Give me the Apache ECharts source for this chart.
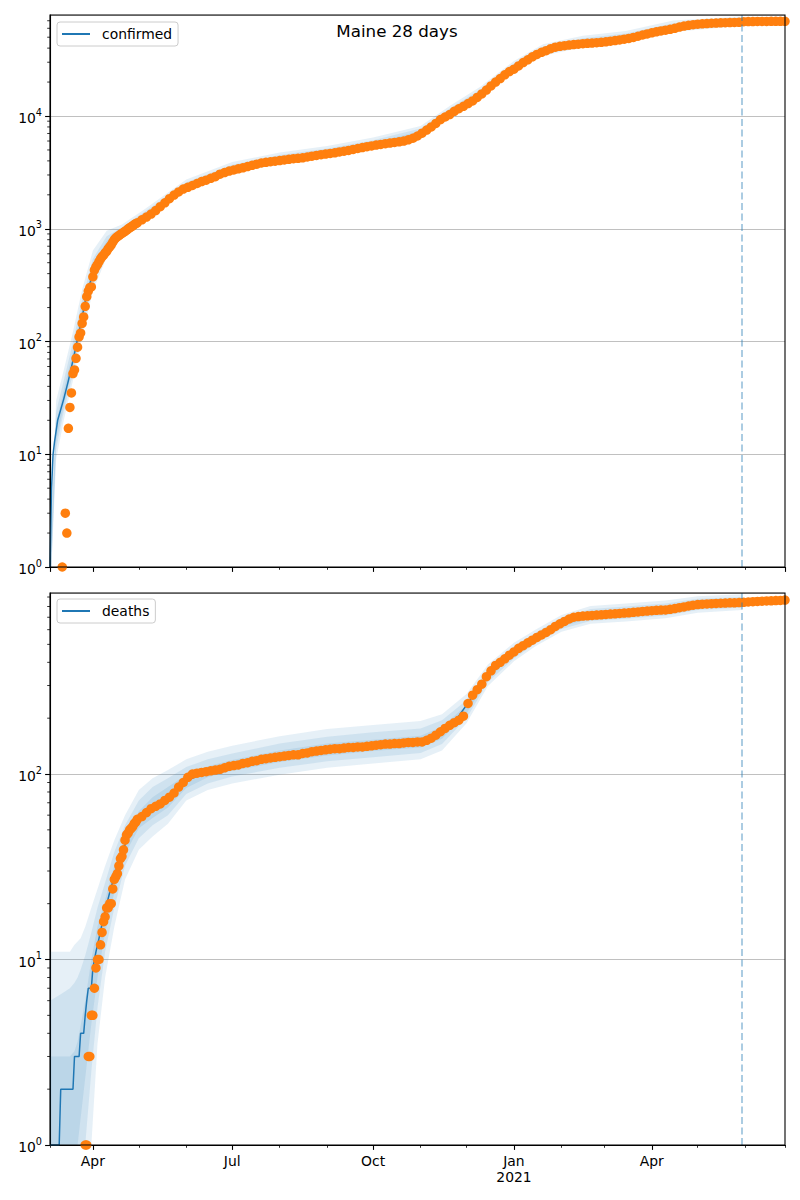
<!DOCTYPE html>
<html><head><meta charset="utf-8">
<script src="https://cdn.jsdelivr.net/npm/echarts@6/dist/echarts.min.js"></script>
<style>html,body{margin:0;padding:0;background:#fff}#c{width:800px;height:1200px}</style>
</head><body><div id="c"></div>
<script>
// ---------------- data ----------------
const monthNames = ['Jan','Feb','Mar','Apr','May','Jun','Jul','Aug','Sep','Oct','Nov','Dec'];
const xMinDate = '2020-03-04', xMaxDate = '2021-06-27', cutoffDate = '2021-05-30';
const yMaxConfirmed = 78700, yMaxDeaths = 946;

const obsDates = [
'2020-03-12','2020-03-13','2020-03-14','2020-03-15','2020-03-16','2020-03-17','2020-03-18','2020-03-19','2020-03-20','2020-03-21',
'2020-03-22','2020-03-23','2020-03-24','2020-03-25','2020-03-26','2020-03-27','2020-03-28','2020-03-29','2020-03-30','2020-03-31',
'2020-04-01','2020-04-02','2020-04-03','2020-04-04','2020-04-05','2020-04-06','2020-04-07','2020-04-08','2020-04-09','2020-04-10',
'2020-04-11','2020-04-12','2020-04-13','2020-04-14','2020-04-15','2020-04-16','2020-04-17','2020-04-18','2020-04-19','2020-04-20',
'2020-04-21','2020-04-22','2020-04-23','2020-04-24','2020-04-25','2020-04-26','2020-04-27','2020-04-28','2020-04-29','2020-04-30',
'2020-05-03','2020-05-06','2020-05-09','2020-05-12','2020-05-15','2020-05-18','2020-05-21','2020-05-24','2020-05-27','2020-05-30',
'2020-06-02','2020-06-05','2020-06-08','2020-06-11','2020-06-14','2020-06-17','2020-06-20','2020-06-23','2020-06-26','2020-06-29',
'2020-07-02','2020-07-05','2020-07-08','2020-07-11','2020-07-14','2020-07-17','2020-07-20','2020-07-23','2020-07-26','2020-07-29',
'2020-08-01','2020-08-04','2020-08-07','2020-08-10','2020-08-13','2020-08-16','2020-08-19','2020-08-22','2020-08-25','2020-08-28','2020-08-31',
'2020-09-03','2020-09-06','2020-09-09','2020-09-12','2020-09-15','2020-09-18','2020-09-21','2020-09-24','2020-09-27','2020-09-30',
'2020-10-03','2020-10-06','2020-10-09','2020-10-12','2020-10-15','2020-10-18','2020-10-21','2020-10-24','2020-10-27','2020-10-30',
'2020-11-02','2020-11-05','2020-11-08','2020-11-11','2020-11-14','2020-11-17','2020-11-20','2020-11-23','2020-11-26','2020-11-29',
'2020-12-02','2020-12-05','2020-12-08','2020-12-11','2020-12-14','2020-12-17','2020-12-20','2020-12-23','2020-12-26','2020-12-29',
'2021-01-01','2021-01-04','2021-01-07','2021-01-10','2021-01-13','2021-01-16','2021-01-19','2021-01-22','2021-01-25','2021-01-28','2021-01-31',
'2021-02-03','2021-02-06','2021-02-09','2021-02-12','2021-02-15','2021-02-18','2021-02-21','2021-02-24','2021-02-27',
'2021-03-02','2021-03-05','2021-03-08','2021-03-11','2021-03-14','2021-03-17','2021-03-20','2021-03-23','2021-03-26','2021-03-29',
'2021-04-01','2021-04-04','2021-04-07','2021-04-10','2021-04-13','2021-04-16','2021-04-19','2021-04-22','2021-04-25','2021-04-28',
'2021-05-01','2021-05-04','2021-05-07','2021-05-10','2021-05-13','2021-05-16','2021-05-19','2021-05-22','2021-05-25','2021-05-28','2021-05-31',
'2021-06-03','2021-06-06','2021-06-09','2021-06-12','2021-06-15','2021-06-18','2021-06-21','2021-06-24','2021-06-27'];

const confirmedObs = [
1,null,3,2,17,26,35,52,56,71, 89,110,119,145,165,205,250,280,300,305,
375,430,460,480,510,540,565,585,610,630, 665,690,720,760,800,830,850,870,890,910,
930,950,970,1000,1020,1040,1060,1090,1110,1130,
1200,1270,1350,1450,1570,1700,1850,1990,2120,2250,
2330,2420,2520,2620,2700,2800,2900,3050,3150,3250,
3320,3400,3470,3560,3650,3740,3830,3880,3930,3980,
4030,4080,4130,4180,4220,4260,4330,4400,4470,4540,4600,
4660,4720,4800,4870,4950,5050,5150,5250,5340,5430,
5520,5600,5680,5750,5830,5900,6000,6150,6350,6650,
7050,7500,8000,8600,9300,9800,10300,11000,11600,12200,
12900,13600,14600,15700,17000,18500,20000,21500,23200,24800,
26000,27800,29800,31500,33500,35200,36700,38000,39600,40800,41500,
42100,42600,43000,43400,43800,44100,44400,44700,45000,
45500,46100,46700,47300,48000,48800,49800,51000,52300,53500,
54700,55800,56800,57700,58700,60000,61500,62800,63800,64600,
65200,65700,66100,66500,66800,67100,67300,67500,67650,67800,68700,
68800,68900,68950,69000,69050,69100,69150,69200,69250];

const deathsObs = [
null,null,null,null,null,null,null,null,null,null, null,null,null,null,null,1,1,3,3,5,
5,7,9,10,10,12,14,16,17,19, 19,20,20,24,27,28,29,32,35,36,
39,44,47,48,50,51,52,54,55,57,
59,62,65,67,69,72,75,79,85,90,
96,100,101,102,103,104,105,106,108,110,
111,112,114,115,117,118,120,121,122,123,
124,125,126,127,127,129,130,132,133,134,135,
136,137,137,138,139,139,140,140,141,142,
143,144,145,145,146,146,147,148,148,149,
149,152,156,162,169,176,183,189,195,205,
240,266,285,305,335,360,385,400,418,437,
455,476,492,510,527,545,562,580,600,625,645,
665,685,700,706,710,713,716,719,722,
725,728,731,734,737,740,744,748,752,756,
760,763,765,767,772,780,788,796,805,813,
819,823,826,829,831,833,835,837,838,840,843,
846,849,852,855,857,859,861,863,866];

// model median (confirmed)
const confModelDates = ['2020-03-04','2020-03-05','2020-03-06','2020-03-07','2020-03-09','2020-03-13','2020-03-16','2020-03-19','2020-03-22','2020-03-25',
'2020-03-28','2020-04-01','2020-04-05','2020-04-10','2020-04-15','2020-04-20','2020-05-01','2020-05-10','2020-05-20','2020-06-01',
'2020-06-15','2020-07-01','2020-07-15','2020-08-01','2020-08-15','2020-09-01','2020-09-15','2020-10-01','2020-10-15','2020-11-01',
'2020-11-10','2020-11-20','2020-12-01','2020-12-10','2020-12-20','2021-01-01','2021-01-10','2021-01-20','2021-02-01','2021-02-15',
'2021-03-01','2021-03-15','2021-04-01','2021-04-15','2021-05-01','2021-05-15','2021-05-30'];
const confMedian = [1,5,10,13,20,31,45,68,105,165, 265,400,560,700,830,930,1180,1420,1800,2330,
2750,3330,3700,4060,4270,4630,4990,5500,5870,6980, 8400,10500,12800,15500,20300,26300,31800,37000,41800,44000,
45600,48500,55100,60000,65600,67400,68300];

// model quantile bands (confirmed)
const confBandDates = ['2020-03-04','2020-03-08','2020-03-13','2020-03-19','2020-03-25','2020-04-01','2020-04-10','2020-04-20','2020-05-05','2020-06-01',
'2020-07-01','2020-08-01','2020-09-01','2020-10-01','2020-11-01','2020-11-20','2020-12-10','2021-01-01','2021-01-20','2021-02-15',
'2021-03-15','2021-04-15','2021-05-30'];
const confHi1 = [1.6,30,56,122,290,640,960,1090,1500,2730,3900,4750,5420,6440,8170,12290,18140,30770,43290,51480,56750,70200,76500];
const confHi2 = [1.3,24,45,99,235,540,860,1030,1420,2590,3700,4510,5140,6110,7750,11660,17210,29190,41070,48840,53840,66600,73760];
const confHi3 = [1.1,19,37,82,198,470,780,980,1350,2460,3510,4280,4880,5800,7360,11080,16350,27750,39040,46420,51170,63300,71030];
const confLo3 = [0.5,13,27,60,147,360,660,900,1240,2260,3230,3940,4500,5340,6780,10190,15050,25530,35920,42720,47090,58250,66310];
const confLo2 = [0.5,11,24,52,127,315,610,880,1210,2210,3160,3850,4390,5210,6620,9950,14690,24930,35070,41710,45970,56870,64740];
const confLo1 = [0.5,9,20,45,110,280,560,860,1185,2160,3080,3760,4290,5090,6460,9720,14350,24350,34260,40740,44910,55560,63240];

// model median (deaths)
const deathModelDates = ['2020-03-04','2020-03-10','2020-03-11','2020-03-19','2020-03-20','2020-03-23','2020-03-24','2020-03-26','2020-03-27','2020-03-28',
'2020-03-29','2020-03-31','2020-04-01','2020-04-03','2020-04-05','2020-04-08','2020-04-12','2020-04-17','2020-04-24','2020-05-01',
'2020-05-10','2020-05-20','2020-06-01','2020-06-15','2020-07-01','2020-07-20','2020-08-10','2020-09-01','2020-10-01','2020-10-25',
'2020-11-10','2020-11-25','2020-12-10','2020-12-25','2021-01-10','2021-01-25','2021-02-10','2021-03-01','2021-04-01','2021-04-20',
'2021-05-10','2021-05-30'];
const deathMedian = [1,1,2,2,3,3,4,4,5,6, 7,7,9,11,13,17,23,32,46,57, 66,75,92,103,111,120,127,135,142,148,
158,200,300,415,510,600,700,725,760,790, 829,842];

// model quantile bands (deaths)
const deathBandDates = ['2020-03-04','2020-03-11','2020-03-17','2020-03-20','2020-03-22','2020-03-24','2020-03-27','2020-03-31','2020-04-04','2020-04-09',
'2020-04-15','2020-04-22','2020-05-01','2020-05-10','2020-05-20','2020-06-01','2020-06-15','2020-07-01','2020-08-01','2020-09-01',
'2020-10-01','2020-11-01','2020-11-15','2020-12-01','2020-12-15','2021-01-01','2021-01-15','2021-02-01','2021-02-20','2021-03-15',
'2021-04-10','2021-05-01','2021-05-30'];
const deathHi1 = [11,11,11,12,12.5,13,15,19,24,32,44,60,82,95,105,120,132,142,160,175,184,193,210,270,390,510,600,720,805,830,862,910,930];
const deathHi2 = [6,6.5,7,7.5,8,8.8,10.5,14,19,26,38,53,72,85,95,109,120,129,146,159,168,176,195,250,370,490,578,695,775,800,830,880,900];
const deathHi3 = [3,3,3,3.2,3.6,4.4,6,10,15,21,32,46,63,75,85,99,110,119,134,146,153,161,180,235,355,475,560,675,750,775,805,850,875];
const deathLo3 = [0.5,0.5,0.5,0.7,1.0,1.4,2.3,4.5,8,14,23,37,51,58,66,84,96,104,116,126,133,139,155,212,325,437,520,625,690,710,740,790,815];
const deathLo2 = [0.5,0.5,0.5,0.5,0.6,0.8,1.0,2.5,5.5,11,19,32,45,53,60,78,89,97,108,117,123,130,145,200,312,420,505,605,668,688,716,765,790];
const deathLo1 = [0.5,0.5,0.5,0.5,0.5,0.6,0.75,1.0,3.5,8,15,27,39,46,54,72,82,89,99,108,114,120,134,188,298,405,488,585,645,665,692,740,765];

// ---------------- helpers ----------------
const DAY = 86400000;
const FONT = 'DejaVu Sans';
const C0 = '#1f77b4', C1 = '#ff7f0e';
const BAND_FILL = 'rgba(31,119,180,0.11)';
function ts(s){ const p = s.split('-').map(Number); return new Date(p[0], p[1]-1, p[2]).getTime(); }
function pairs(dates, vals){ const out=[]; for (let i=0;i<dates.length;i++){ if (vals[i]!=null) out.push([ts(dates[i]), vals[i]]); } return out; }

function powLabel(v){
  const l = Math.log10(v), e = Math.round(l);
  if (Math.abs(l - e) > 1e-6) return '';
  return '{b|10}{e|' + e + '}';
}
function quarterLabel(v){
  const d = new Date(v);
  if (d.getDate() !== 1 || d.getHours() !== 0) return '';
  const m = d.getMonth();
  if (m % 3) return '';
  return m === 0 ? monthNames[0] + '\n' + d.getFullYear() : monthNames[m];
}

function xMonthAxis(g){
  return {type:'time', gridIndex:g, min:ts(xMinDate), max:ts(xMaxDate), position:'bottom',
    minInterval:32*DAY, maxInterval:32*DAY,
    axisLine:{show:true, lineStyle:{color:'#000', width:1.1}},
    axisTick:{show:true, length:2.8, lineStyle:{color:'#000', width:0.8}},
    axisLabel:{show:false}, splitLine:{show:false}, axisPointer:{show:false}};
}
function xQuarterAxis(g, labels){
  return {type:'time', gridIndex:g, min:ts(xMinDate), max:ts(xMaxDate), position:'bottom',
    minInterval:93*DAY, maxInterval:93*DAY,
    axisLine:{show:true, lineStyle:{color:'#000', width:1.1}},
    axisTick:{show:true, length:4.9, lineStyle:{color:'#000', width:1.1}},
    axisLabel:{show:labels, formatter:quarterLabel, fontSize:13.9, lineHeight:16, fontFamily:FONT, color:'#000', margin:8, hideOverlap:false},
    splitLine:{show:false}};
}
function yAxisCfg(g, max){
  return {type:'log', logBase:10, gridIndex:g, min:1, max:max, position:'left',
    axisLine:{show:true, lineStyle:{color:'#000', width:1.1}},
    axisTick:{show:true, length:4.9, lineStyle:{color:'#000', width:1.1}},
    axisLabel:{show:true, margin:8, showMaxLabel:false, formatter:powLabel, color:'#000',
      rich:{ b:{fontSize:13.9, fontFamily:FONT, color:'#000', padding:[4,0,0,0]},
             e:{fontSize:9.7, fontFamily:FONT, color:'#000', padding:[0,0,8,0]} }},
    splitLine:{show:true, lineStyle:{color:'#b0b0b0', width:0.8}}};
}
function bandSeries(g, dates, lo, hi){
  const t = dates.map(ts);
  return {type:'custom', xAxisIndex:g*2, yAxisIndex:g, clip:true, silent:true, z:1,
    encode:{x:0, y:1}, data:[[t[Math.floor(t.length/2)], hi[Math.floor(t.length/2)]]],
    renderItem:function(params, api){
      const pts = [];
      for (let i=0;i<t.length;i++) pts.push(api.coord([t[i], hi[i]]));
      for (let i=t.length-1;i>=0;i--) pts.push(api.coord([t[i], lo[i]]));
      return {type:'polygon', shape:{points:pts}, style:{fill:BAND_FILL}};
    }};
}
function minorTickSeries(g, max){
  const vals = [];
  for (let dec=1; dec<=max; dec*=10) for (let k=2;k<=9;k++) if (k*dec < max) vals.push([ts(xMinDate), k*dec]);
  return {type:'custom', xAxisIndex:g*2, yAxisIndex:g, silent:true, z:6, encode:{x:0,y:1}, data:vals,
    renderItem:function(params, api){
      const p = api.coord([api.value(0), api.value(1)]);
      return {type:'line', shape:{x1:p[0]-2.8, y1:p[1], x2:p[0], y2:p[1]}, style:{stroke:'#000', lineWidth:0.8}};
    }};
}
function legendCfg(name, top){
  return {data:[{name:name, icon:'rect'}], left:57, top:top, orient:'horizontal', itemWidth:28, itemHeight:2, padding:[4,6,4,5],
    backgroundColor:'rgba(255,255,255,0.8)', borderColor:'#cccccc', borderWidth:1, borderRadius:3, selectedMode:false,
    itemStyle:{color:C0, borderWidth:0},
    textStyle:{fontSize:13.9, fontFamily:FONT, color:'#000', padding:[0,0,0,7], lineHeight:16}};
}
function cutoffSeries(g){
  return {type:'line', xAxisIndex:g*2, yAxisIndex:g, data:[], z:5, silent:true,
    markLine:{silent:true, symbol:'none', label:{show:false}, animation:false,
      lineStyle:{color:'rgba(31,119,180,0.5)', type:[7,3.5], width:1.5},
      data:[{xAxis:ts(cutoffDate)}]}};
}

const option = {
  animation:false, backgroundColor:'#fff',
  textStyle:{fontFamily:FONT},
  grid:[{left:50, top:15, width:735, height:552}, {left:50, top:593, width:735, height:552}],
  xAxis:[xMonthAxis(0), xQuarterAxis(0,false), xMonthAxis(1), xQuarterAxis(1,true)],
  yAxis:[yAxisCfg(0, yMaxConfirmed), yAxisCfg(1, yMaxDeaths)],
  legend:[legendCfg('confirmed', 22), legendCfg('deaths', 599)],
  graphic:[
    {type:'text', x:397, y:31, z:100, style:{text:'Maine 28 days', font:'16.7px "DejaVu Sans"', fill:'#000', align:'center', verticalAlign:'middle'}},
    {type:'rect', z:100, silent:true, shape:{x:50, y:15, width:735, height:552}, style:{fill:'none', stroke:'#000', lineWidth:1.1}},
    {type:'rect', z:100, silent:true, shape:{x:50, y:593, width:735, height:552}, style:{fill:'none', stroke:'#000', lineWidth:1.1}}
  ],
  series:[
    bandSeries(0, confBandDates, confLo1, confHi1),
    bandSeries(0, confBandDates, confLo2, confHi2),
    bandSeries(0, confBandDates, confLo3, confHi3),
    {type:'line', name:'confirmed', xAxisIndex:0, yAxisIndex:0, data:pairs(confModelDates, confMedian), symbol:'none', clip:true, z:2,
      lineStyle:{color:C0, width:1.5}, itemStyle:{color:C0}},
    {type:'scatter', name:'confirmed obs', xAxisIndex:0, yAxisIndex:0, data:pairs(obsDates, confirmedObs), symbolSize:9.5, clip:true, z:3,
      itemStyle:{color:C1, opacity:1}},
    cutoffSeries(0),
    minorTickSeries(0, yMaxConfirmed),

    bandSeries(1, deathBandDates, deathLo1, deathHi1),
    bandSeries(1, deathBandDates, deathLo2, deathHi2),
    bandSeries(1, deathBandDates, deathLo3, deathHi3),
    {type:'line', name:'deaths', xAxisIndex:2, yAxisIndex:1, data:pairs(deathModelDates, deathMedian), symbol:'none', clip:true, z:2,
      lineStyle:{color:C0, width:1.5}, itemStyle:{color:C0}},
    {type:'scatter', name:'deaths obs', xAxisIndex:2, yAxisIndex:1, data:pairs(obsDates, deathsObs), symbolSize:9.5, clip:true, z:3,
      itemStyle:{color:C1, opacity:1}},
    cutoffSeries(1),
    minorTickSeries(1, yMaxDeaths)
  ]
};

const chart = echarts.init(document.getElementById('c'), null, {renderer:'svg', width:800, height:1200});
chart.setOption(option);
</script></body></html>
